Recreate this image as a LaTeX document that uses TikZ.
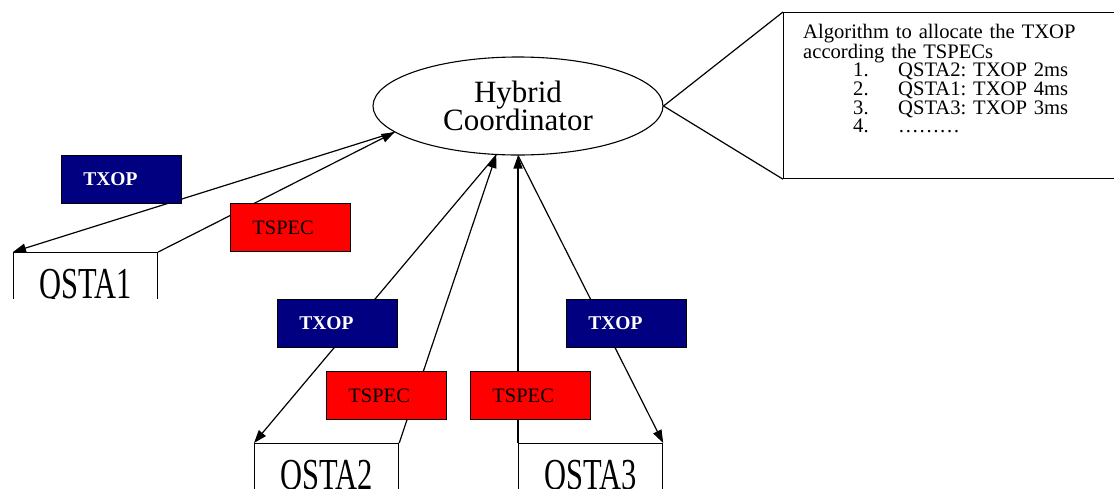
\documentclass[tikz,border=0pt]{standalone}
\usepackage{fontspec}
\setmainfont{Liberation Serif}
\usetikzlibrary{arrows.meta,shapes.geometric}
\definecolor{txopblue}{RGB}{0,0,128}
\definecolor{tspecred}{RGB}{255,0,0}
\frenchspacing
\lineskiplimit=-50pt
\begin{document}
\begin{tikzpicture}[x=1pt,y=-1pt,
  every node/.style={inner sep=0pt},
  conn/.style={line width=1.2pt},
  arr/.style={conn,-{Triangle[length=13pt,width=9pt]}},
  qsta/.style={draw,line width=1.2pt,fill=white,minimum width=144pt,text height=30pt,text depth=10pt,inner ysep=16pt,anchor=north west,font=\fontsize{30.5}{36}\selectfont},
  lblbox/.style={draw=black,line width=0.8pt,minimum height=48pt,text width=76pt,inner xsep=22pt,anchor=north west,align=left},
  txop/.style={lblbox,fill=txopblue,text=white,font=\fontsize{19.5}{24}\selectfont\bfseries},
  tspec/.style={lblbox,fill=tspecred,text=black,font=\fontsize{20.5}{24}\selectfont},
  hcstyle/.style={draw,ellipse,line width=1.1pt,minimum width=290pt,minimum height=98pt,align=center,font=\fontsize{31}{28}\selectfont},
  callbox/.style={draw,line width=1.2pt,minimum width=360pt,minimum height=166pt,anchor=north west},
  calltext/.style={anchor=north west,text width=310pt,align=left,font=\fontsize{20.6}{18.6}\selectfont}
]
\clip (0,0) rectangle (1114,488);
\fill[white] (0,0) rectangle (1114,488);

\node[hcstyle] (hc) at (518,106) {Hybrid\\Coordinator};

\begin{scope}
  \clip (0,0) rectangle (300,298);
  \node[qsta] (q1) at (13,252) {\scalebox{1}[1.45]{QSTA1}};
\end{scope}
\node[qsta] (q2) at (254,443) {\scalebox{1}[1.45]{QSTA2}};
\node[qsta] (q3) at (518,443) {\scalebox{1}[1.45]{QSTA3}};

\draw[arr] (hc.192) -- (q1.north west);
\draw[arr] (q1.north east) -- (hc.192);
\draw[arr] (hc.246) -- (q2.north west);
\draw[arr] (q2.north east) -- (hc.246);
\draw[arr] (q3.north west) -- (hc.south);
\draw[arr] (hc.south) -- (q3.north east);

\node[txop] (t1) at (61,155) {TXOP};
\node[tspec] (s1) at (230,203) {TSPEC};
\node[txop] (t2) at (277,299) {TXOP};
\node[tspec] (s2) at (326,371) {TSPEC};
\node[tspec] (s3) at (470,371) {TSPEC};
\node[txop] (t3) at (566,299) {TXOP};

\node[callbox] (algo) at (783,12) {};
\draw[conn] (algo.north west) -- (hc.east) -- (algo.south west);
\node[calltext] (algotxt) at ([xshift=20pt,yshift=-12pt]algo.north west) {%
Algorithm to allocate the TXOP\\
according the TSPECs\\
\hspace*{50pt}\makebox[45pt][l]{1.}QSTA2: TXOP 2ms\\
\hspace*{50pt}\makebox[45pt][l]{2.}QSTA1: TXOP 4ms\\
\hspace*{50pt}\makebox[45pt][l]{3.}QSTA3: TXOP 3ms\\
\hspace*{50pt}\makebox[45pt][l]{4.}………};
\end{tikzpicture}
\end{document}
